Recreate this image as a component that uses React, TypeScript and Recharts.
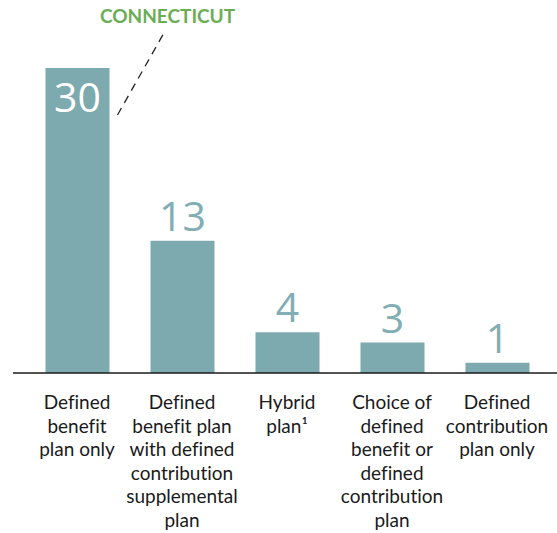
import { BarChart, Bar, XAxis, YAxis, LabelList } from 'recharts'

const categories: string[][] = [
  ['Defined', 'benefit', 'plan only'],
  ['Defined', 'benefit plan', 'with defined', 'contribution', 'supplemental', 'plan'],
  ['Hybrid', 'plan¹'],
  ['Choice of', 'defined', 'benefit or', 'defined', 'contribution', 'plan'],
  ['Defined', 'contribution', 'plan only'],
]
const states = [30, 13, 4, 3, 1]
const calloutLabel = 'CONNECTICUT'

const BAR = '#7caaaf'
const LABEL = '#80aeb3'
const GREEN = '#6aad55'
const FONT = 'Lato, "Open Sans", sans-serif'
const NUM_FONT = '"Open Sans", sans-serif'

const data = categories.map((lines, i) => ({ key: String(i), lines, value: states[i] }))

function CategoryTick({ x, y, payload }: any) {
  const lines = categories[Number(payload.value)] ?? []
  return (
    <text x={x} y={y} textAnchor="middle" fontFamily={FONT} fontSize={19} fill="#1a1a1a" style={{ fontVariantLigatures: 'none' }}>
      {lines.map((l, i) => (
        <tspan key={i} x={x} dy={i === 0 ? 28 : 23.6}>
          {l}
        </tspan>
      ))}
    </text>
  )
}

function ValueLabel(props: any) {
  const { x, y, width, value, index } = props
  const cx = x + width / 2
  if (index === 0) {
    // tallest bar: value sits inside, plus the callout
    return (
      <g>
        <text x={cx} y={y + 44} textAnchor="middle" fontFamily={NUM_FONT} fontSize={41} fill="#fff">
          {value}
        </text>
        <line x1={x + width + 8} y1={y + 47} x2={x + width + 55} y2={y - 36} stroke="#222" strokeWidth={1.3} strokeDasharray="8 6" />
        <text x={cx + 90} y={y - 45} textAnchor="middle" fontFamily={FONT} fontWeight={700} fontSize={19} fill={GREEN}>
          {calloutLabel}
        </text>
      </g>
    )
  }
  return (
    <text x={cx} y={y - 10} textAnchor="middle" fontFamily={NUM_FONT} fontSize={41} fill={LABEL}>
      {value}
    </text>
  )
}

export default function App() {
  return (
    <div style={{ position: 'absolute', left: 0, top: 0, background: '#fff' }}>
      <BarChart width={557} height={533} data={data} margin={{ top: 68, right: 0, bottom: 0, left: 13 }}>
        <XAxis
          dataKey="key"
          height={160}
          axisLine={{ stroke: '#1a1a1a', strokeWidth: 1.5 }}
          tickLine={false}
          tick={<CategoryTick />}
          interval={0}
          padding={{ left: 11.5, right: 7.5 }}
        />
        <YAxis hide domain={[0, 30]} />
        <Bar dataKey="value" fill={BAR} barSize={64} isAnimationActive={false}>
          <LabelList dataKey="value" content={<ValueLabel />} />
        </Bar>
      </BarChart>
    </div>
  )
}
